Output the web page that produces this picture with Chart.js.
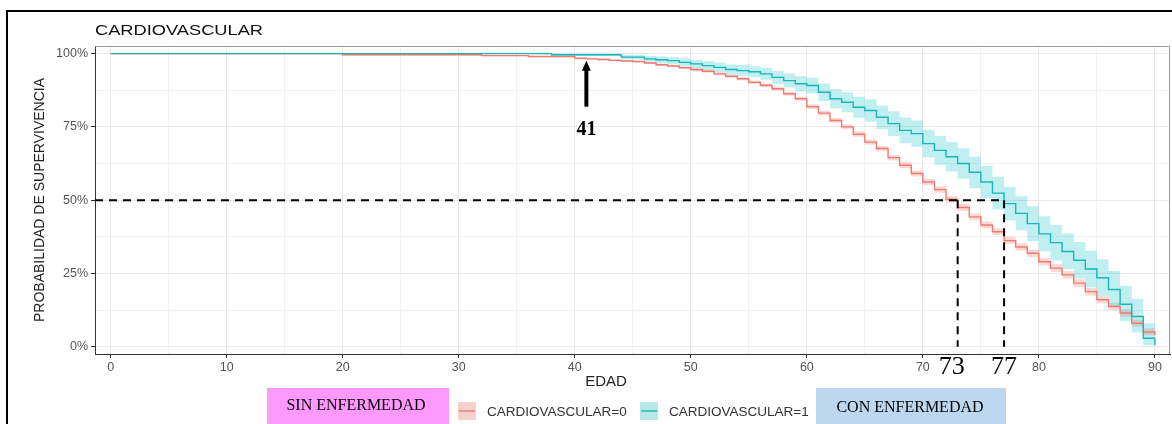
<!DOCTYPE html>
<html>
<head>
<meta charset="utf-8">
<script src="https://cdn.jsdelivr.net/npm/chart.js@4.4.1/dist/chart.umd.min.js"></script>
<style>
  html, body { margin: 0; padding: 0; background: #fff; }
  #km { display: block; }
</style>
</head>
<body>
<canvas id="km" width="1172" height="424" style="width:1172px;height:424px"></canvas>
<script>
// Kaplan-Meier steps (survival in %)
const redAges = [0, 20, 32, 36, 40, 41, 42, 43, 44, 45, 46, 47, 48, 49, 50, 51, 52, 53, 54, 55, 56, 57, 58, 59, 60,
  61, 62, 63, 64, 65, 66, 67, 68, 69, 70, 71, 72, 73, 74, 75, 76, 77, 78, 79, 80, 81, 82, 83, 84, 85, 86, 87, 88, 89, 90];
const redSurv = [100, 99.6, 99.3, 99.0, 98.4, 98.2, 98.0, 97.7, 97.5, 97.3, 96.8, 96.2, 95.8, 95.2, 94.6, 94.0, 93.1, 92.3, 91.4, 90.2, 89.2,
  88.0, 86.3, 84.6, 81.9, 79.7, 77.2, 75.0, 72.5, 69.8, 67.6, 64.5, 61.9, 59.1, 56.2, 53.6, 50.3, 47.5, 44.3, 41.5, 39.2,
  36.2, 34.0, 31.9, 29.0, 26.8, 24.5, 21.7, 18.8, 16.0, 13.7, 11.5, 8.0, 5.0, 4.0];
const redUpper = [100, 99.8, 99.5, 99.2, 98.7, 98.5, 98.3, 98.0, 97.8, 97.6, 97.1, 96.6, 96.2, 95.6, 95.1, 94.5, 93.6, 92.8, 92.0, 90.8, 89.8,
  88.7, 87.0, 85.3, 82.7, 80.5, 78.0, 75.8, 73.4, 70.7, 68.5, 65.5, 62.9, 60.1, 57.3, 54.7, 51.4, 48.7, 45.5, 42.7, 40.4,
  37.5, 35.3, 33.2, 30.3, 28.1, 25.8, 23.0, 20.1, 17.3, 15.0, 12.8, 9.3, 6.3, 5.3];
const redLower = [100, 99.4, 99.1, 98.8, 98.1, 97.9, 97.7, 97.4, 97.2, 97.0, 96.5, 95.8, 95.4, 94.8, 94.1, 93.5, 92.6, 91.8, 90.8, 89.6, 88.6,
  87.3, 85.6, 83.9, 81.1, 78.9, 76.4, 74.2, 71.6, 68.9, 66.7, 63.5, 60.9, 58.1, 55.1, 52.5, 49.2, 46.3, 43.1, 40.3, 38.0,
  35.0, 32.7, 30.6, 27.7, 25.5, 23.2, 20.4, 17.5, 14.7, 12.4, 10.2, 6.8, 3.8, 2.8];

const cvAges = [0, 38, 44, 46, 47, 48, 49, 50, 51, 52, 53, 54, 55, 56, 57, 58, 59, 60, 61, 62, 63, 64, 65, 66, 67,
  68, 69, 70, 71, 72, 73, 74, 75, 76, 77, 78, 79, 80, 81, 82, 83, 84, 85, 86, 87, 88, 89, 90];
const cvSurv = [100, 99.6, 98.8, 98.2, 97.9, 97.6, 97.0, 96.5, 95.9, 95.3, 94.6, 94.2, 93.8, 93.1, 91.9, 90.8, 89.7, 89.1,
  86.8, 84.6, 83.4, 81.7, 80.6, 78.3, 76.1, 73.8, 72.7, 69.3, 67.0, 64.8, 62.5, 59.5, 56.2, 52.4, 48.8, 45.5, 42.0,
  38.5, 35.5, 32.5, 29.5, 26.5, 23.5, 19.5, 14.5, 10.3, 2.9, 0.5];
const cvUpper = [100, 100, 99.6, 99.2, 99.0, 98.8, 98.3, 97.9, 97.4, 96.9, 96.3, 96.0, 95.7, 95.1, 94.1, 93.2, 92.3, 91.8,
  89.8, 87.8, 86.8, 85.3, 84.4, 82.3, 80.3, 78.2, 77.2, 74.0, 71.9, 69.8, 67.7, 64.9, 61.7, 58.0, 54.5, 51.3, 47.9,
  44.5, 41.6, 38.6, 35.7, 32.7, 29.8, 25.8, 20.8, 16.3, 8.0, 1.5];
const cvLower = [100, 99.2, 98.0, 97.2, 96.8, 96.4, 95.7, 95.1, 94.4, 93.7, 92.9, 92.4, 91.9, 91.1, 89.7, 88.4, 87.1, 86.4,
  83.8, 81.4, 80.0, 78.1, 76.8, 74.3, 71.9, 69.4, 68.2, 64.6, 62.1, 59.8, 57.3, 54.1, 50.7, 46.8, 43.1, 39.7, 36.1,
  32.5, 29.4, 26.4, 23.3, 20.3, 17.3, 13.5, 8.8, 4.8, 0.5, 0];

const xTicks = [0, 5, 10, 15, 20, 25, 30, 35, 40, 45, 50, 55, 60, 65, 70, 75, 80, 85, 90];
const yTicks = [0, 12.5, 25, 37.5, 50, 62.5, 75, 87.5, 100];
const medianAges = [73, 77];
const medianLevel = 50;
const arrowAge = 41;

const seriesNames = ['CARDIOVASCULAR=0', 'CARDIOVASCULAR=1'];
const redLine = '#F07A72', redFill = 'rgba(248,118,109,0.28)';
const cvLine = '#19B5B8', cvFill = 'rgba(0,191,196,0.25)';

const xMin = -1.35, xMax = 91.3, yMin = -2.5, yMax = 102.6;

const pts = (xs, ys) => xs.map((v, i) => ({ x: v, y: ys[i] }));

const datasets = [
  { data: pts(cvAges, cvSurv), borderColor: cvLine, borderWidth: 1.4, stepped: true, pointRadius: 0, fill: false, order: 0 },
  { data: pts(redAges, redSurv), borderColor: redLine, borderWidth: 1.4, stepped: true, pointRadius: 0, fill: false, order: 0 },
  { data: pts(cvAges, cvUpper), borderWidth: 0, borderColor: 'rgba(0,0,0,0)', backgroundColor: cvFill, stepped: true, pointRadius: 0, fill: '+1', order: 2 },
  { data: pts(cvAges, cvLower), borderWidth: 0, borderColor: 'rgba(0,0,0,0)', stepped: true, pointRadius: 0, fill: false, order: 2 },
  { data: pts(redAges, redUpper), borderWidth: 0, borderColor: 'rgba(0,0,0,0)', backgroundColor: redFill, stepped: true, pointRadius: 0, fill: '+1', order: 3 },
  { data: pts(redAges, redLower), borderWidth: 0, borderColor: 'rgba(0,0,0,0)', stepped: true, pointRadius: 0, fill: false, order: 3 },
  // dashed median guides
  { data: [{ x: xMin, y: medianLevel }, { x: medianAges[1], y: medianLevel }], borderColor: '#000', borderWidth: 2, borderDash: [8, 6], pointRadius: 0, fill: false, order: -1 },
  { data: [{ x: medianAges[0], y: medianLevel }, { x: medianAges[0], y: 0 }], borderColor: '#000', borderWidth: 2, borderDash: [8, 6], pointRadius: 0, fill: false, order: -1 },
  { data: [{ x: medianAges[1], y: medianLevel }, { x: medianAges[1], y: 0 }], borderColor: '#000', borderWidth: 2, borderDash: [8, 6], pointRadius: 0, fill: false, order: -1 }
];

function stretchText(ctx, text, x, y, width) {
  const w = ctx.measureText(text).width;
  ctx.save();
  ctx.translate(x, y);
  ctx.scale(width / w, 1);
  ctx.fillText(text, 0, 0);
  ctx.restore();
}

const decor = {
  id: 'decor',
  afterDraw(chart) {
    const { ctx, chartArea: a, scales: { x, y } } = chart;
    ctx.save();

    // panel top / right edge
    ctx.strokeStyle = '#9a9a9a';
    ctx.lineWidth = 1;
    ctx.beginPath();
    ctx.moveTo(a.left, a.top + 0.5);
    ctx.lineTo(a.right - 0.5, a.top + 0.5);
    ctx.lineTo(a.right - 0.5, a.bottom);
    ctx.stroke();

    // outer frame (top and left)
    ctx.strokeStyle = '#000';
    ctx.lineWidth = 2;
    ctx.beginPath();
    ctx.moveTo(7, 430);
    ctx.lineTo(7, 11);
    ctx.lineTo(1172, 11);
    ctx.stroke();

    // title
    ctx.fillStyle = '#111';
    ctx.textBaseline = 'middle';
    ctx.textAlign = 'left';
    ctx.font = '15px "Liberation Sans", Arial, sans-serif';
    stretchText(ctx, 'CARDIOVASCULAR', 95, 31, 168);

    // axis titles
    ctx.fillStyle = '#222';
    ctx.font = '14px "Liberation Sans", Arial, sans-serif';
    ctx.textAlign = 'center';
    ctx.save();
    ctx.translate(40, (a.top + a.bottom) / 2);
    ctx.rotate(-Math.PI / 2);
    ctx.fillText('PROBABILIDAD DE SUPERVIVENCIA', 0, 0);
    ctx.restore();
    ctx.font = '15px "Liberation Sans", Arial, sans-serif';
    ctx.fillText('EDAD', 606, 382);

    // arrow at 41
    const ax = x.getPixelForValue(arrowAge);
    const tip = y.getPixelForValue(97.6), base = y.getPixelForValue(81.9);
    ctx.fillStyle = '#000';
    ctx.fillRect(ax - 2, tip + 8, 4, base - tip - 8);
    ctx.beginPath();
    ctx.moveTo(ax, tip);
    ctx.lineTo(ax - 4.5, tip + 10);
    ctx.lineTo(ax + 4.5, tip + 10);
    ctx.closePath();
    ctx.fill();
    ctx.font = 'bold 20px "Liberation Serif", "Times New Roman", serif';
    ctx.fillText(String(arrowAge), ax, y.getPixelForValue(74.0));

    // median age labels
    ctx.font = '26px "Liberation Serif", "Times New Roman", serif';
    ctx.fillText(String(medianAges[0]), x.getPixelForValue(medianAges[0]) - 6, 367);
    ctx.fillText(String(medianAges[1]), x.getPixelForValue(medianAges[1]), 367);

    // legend
    ctx.fillStyle = '#FF99FF';
    ctx.fillRect(267, 388, 182, 40);
    ctx.fillStyle = '#BDD7EE';
    ctx.fillRect(816, 388, 190, 40);
    ctx.fillStyle = '#000';
    ctx.font = '16px "Liberation Serif", "Times New Roman", serif';
    ctx.fillText('SIN ENFERMEDAD', 356, 406);
    ctx.fillText('CON ENFERMEDAD', 910, 408);

    const items = [
      { x: 458, fill: redFill, line: redLine, label: seriesNames[0] },
      { x: 640, fill: cvFill, line: cvLine, label: seriesNames[1] }
    ];
    ctx.textAlign = 'left';
    ctx.font = '13.5px "Liberation Sans", Arial, sans-serif';
    items.forEach(it => {
      ctx.fillStyle = '#f4f4f4';
      ctx.fillRect(it.x, 402, 18, 18);
      ctx.fillStyle = it.fill;
      ctx.fillRect(it.x, 402, 18, 18);
      ctx.strokeStyle = it.line;
      ctx.lineWidth = 1.4;
      ctx.beginPath();
      ctx.moveTo(it.x + 1, 411);
      ctx.lineTo(it.x + 17, 411);
      ctx.stroke();
      ctx.fillStyle = '#333';
      ctx.fillText(it.label, it.x + 29, 412);
    });

    ctx.restore();
  }
};

new Chart(document.getElementById('km'), {
  type: 'line',
  data: { datasets },
  plugins: [decor],
  options: {
    responsive: false,
    animation: false,
    events: [],
    layout: { padding: { left: 0, top: 46, right: 2, bottom: 0 } },
    plugins: { legend: { display: false }, tooltip: { enabled: false }, title: { display: false } },
    scales: {
      x: {
        type: 'linear',
        min: xMin,
        max: xMax,
        afterBuildTicks: s => { s.ticks = xTicks.map(v => ({ value: v })); },
        afterFit: s => { s.height = 70; },
        ticks: {
          autoSkip: false,
          maxRotation: 0,
          padding: 2,
          color: '#555',
          font: { family: '"Liberation Sans", Arial, sans-serif', size: 12.5 },
          callback: v => (v % 10 === 0 ? String(v) : '')
        },
        grid: {
          color: c => (c.tick && c.tick.value % 10 === 0 ? '#e9e9e9' : '#f0f0f0'),
          lineWidth: 1,
          tickLength: 4,
          tickColor: c => (c.tick && c.tick.value % 10 === 0 ? '#333' : 'rgba(0,0,0,0)')
        },
        border: { display: true, color: '#333', width: 1 }
      },
      y: {
        type: 'linear',
        min: yMin,
        max: yMax,
        afterBuildTicks: s => { s.ticks = yTicks.map(v => ({ value: v })); },
        afterFit: s => { s.width = 95; },
        ticks: {
          autoSkip: false,
          padding: 3,
          color: '#555',
          font: { family: '"Liberation Sans", Arial, sans-serif', size: 12.5 },
          callback: v => (v % 25 === 0 ? v + '%' : '')
        },
        grid: {
          color: c => (c.tick && c.tick.value % 25 === 0 ? '#e9e9e9' : '#f0f0f0'),
          lineWidth: 1,
          tickLength: 4,
          tickColor: c => (c.tick && c.tick.value % 25 === 0 ? '#333' : 'rgba(0,0,0,0)')
        },
        border: { display: true, color: '#333', width: 1 }
      }
    }
  }
});
</script>
</body>
</html>
